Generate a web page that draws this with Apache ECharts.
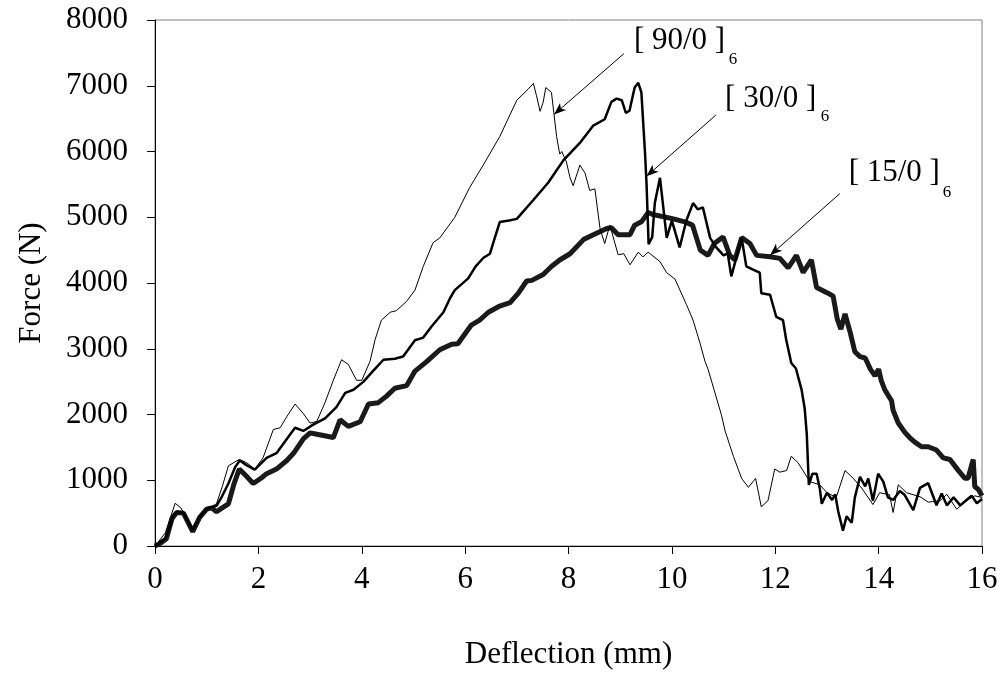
<!DOCTYPE html>
<html>
<head>
<meta charset="utf-8">
<script src="https://cdn.jsdelivr.net/npm/echarts@6/dist/echarts.min.js"></script>
<style>html,body{margin:0;padding:0;background:#fff}#c{width:1002px;height:700px}</style>
</head>
<body>
<div id="c"></div>
<script>
// Deflection (mm), Force (N) pairs
var thin90 = [[0,0],[0.2,200],[0.39,650],[0.5,580],[0.73,250],[0.85,400],[1.0,560],[1.19,643],[1.3,900],[1.42,1220],[1.63,1317],[1.77,1268],[1.93,1172],[2.09,1340],[2.29,1773],[2.42,1798],[2.55,1967],[2.71,2159],[2.87,2014],[3.0,1870],[3.13,1894],[3.29,2183],[3.45,2520],[3.61,2833],[3.74,2761],[3.90,2520],[4.0,2520],[4.16,2809],[4.26,3145],[4.38,3434],[4.55,3555],[4.67,3579],[4.87,3723],[5.03,3892],[5.19,4253],[5.38,4614],[5.51,4686],[5.80,4999],[6.09,5455],[6.35,5793],[6.67,6227],[7.0,6780],[7.22,6949],[7.32,7035],[7.38,6852],[7.45,6611],[7.51,6750],[7.56,6972],[7.67,6900],[7.72,6563],[7.77,6227],[7.83,5961],[7.87,6000],[7.96,5841],[8.03,5600],[8.09,5480],[8.22,5793],[8.32,5672],[8.41,5408],[8.51,5432],[8.61,4830],[8.70,4600],[8.80,4880],[8.96,4430],[9.07,4445],[9.19,4277],[9.35,4469],[9.44,4397],[9.54,4469],[9.77,4325],[9.90,4156],[10.06,4060],[10.28,3675],[10.41,3434],[10.54,3097],[10.64,2809],[10.70,2689],[10.96,1990],[11.03,1750],[11.19,1365],[11.35,1028],[11.48,892],[11.62,1028],[11.73,595],[11.86,690],[11.99,1172],[12.09,1123],[12.22,1148],[12.31,1365],[12.44,1268],[12.67,979],[12.86,931],[13.0,811],[13.18,739],[13.35,1148],[13.51,1028],[13.67,883],[13.89,630],[14.02,810],[14.21,780],[14.28,510],[14.38,931],[14.54,810],[14.8,750],[14.96,667],[15.19,690],[15.32,787],[15.51,560],[15.70,690],[15.86,763],[16.0,739]];

var mid30 = [[0,0],[0.2,110],[0.36,470],[0.42,520],[0.55,500],[0.73,240],[0.86,440],[1.0,570],[1.19,610],[1.3,760],[1.42,950],[1.55,1200],[1.64,1300],[1.77,1230],[1.93,1160],[2.16,1340],[2.35,1412],[2.55,1629],[2.71,1798],[2.87,1750],[3.06,1846],[3.29,1942],[3.51,2111],[3.68,2328],[3.84,2376],[4.03,2496],[4.22,2664],[4.42,2833],[4.64,2848],[4.80,2881],[5.03,3130],[5.19,3170],[5.35,3339],[5.58,3555],[5.71,3772],[5.80,3892],[6.06,4070],[6.20,4250],[6.35,4380],[6.48,4445],[6.58,4700],[6.67,4927],[6.85,4950],[7.0,4975],[7.32,5263],[7.61,5528],[7.90,5865],[8.22,6130],[8.48,6394],[8.70,6491],[8.83,6755],[8.93,6804],[9.03,6780],[9.11,6587],[9.18,6620],[9.28,6972],[9.35,7044],[9.41,6900],[9.48,5985],[9.51,5504],[9.55,4590],[9.62,4700],[9.67,5215],[9.77,5600],[9.90,4686],[10.0,4950],[10.15,4541],[10.28,4950],[10.41,5215],[10.5,5120],[10.6,5150],[10.74,4686],[10.85,4550],[11.0,4420],[11.08,4450],[11.15,4100],[11.35,4686],[11.44,4253],[11.57,4205],[11.70,4156],[11.73,3844],[11.90,3820],[12.02,3483],[12.15,3434],[12.21,3145],[12.31,2784],[12.40,2700],[12.51,2375],[12.57,2087],[12.61,1700],[12.65,930],[12.72,1100],[12.80,1100],[12.86,883],[12.90,643],[13.0,811],[13.10,700],[13.16,787],[13.22,522],[13.31,234],[13.38,450],[13.48,354],[13.54,739],[13.64,1052],[13.74,907],[13.80,1028],[13.89,690],[13.99,1100],[14.09,979],[14.18,739],[14.28,700],[14.41,835],[14.50,780],[14.67,546],[14.80,883],[14.96,955],[15.12,620],[15.22,800],[15.32,618],[15.45,739],[15.58,618],[15.70,700],[15.80,763],[15.90,650],[16.0,715]];

var thick15 = [[0,0],[0.1,40],[0.22,110],[0.33,420],[0.42,510],[0.55,500],[0.73,220],[0.86,430],[1.0,560],[1.1,580],[1.19,520],[1.3,580],[1.42,640],[1.53,950],[1.63,1170],[1.77,1060],[1.9,950],[2.05,1030],[2.16,1100],[2.35,1170],[2.55,1300],[2.68,1410],[2.87,1630],[3.0,1720],[3.13,1700],[3.26,1680],[3.45,1650],[3.58,1920],[3.74,1820],[3.97,1890],[4.13,2160],[4.32,2180],[4.48,2280],[4.64,2400],[4.87,2440],[5.03,2660],[5.25,2800],[5.51,2985],[5.74,3070],[5.86,3075],[6.12,3360],[6.28,3435],[6.45,3555],[6.67,3650],[6.87,3700],[7.03,3845],[7.19,4030],[7.29,4040],[7.51,4130],[7.67,4250],[7.83,4350],[8.03,4445],[8.29,4660],[8.48,4735],[8.74,4830],[8.83,4840],[8.96,4735],[9.19,4735],[9.28,4880],[9.41,4930],[9.54,5070],[9.64,5040],[9.77,5020],[10.03,4975],[10.25,4930],[10.40,4880],[10.55,4500],[10.70,4420],[10.82,4600],[10.99,4700],[11.12,4420],[11.22,4350],[11.35,4690],[11.51,4600],[11.64,4420],[11.90,4400],[12.09,4375],[12.25,4230],[12.41,4420],[12.54,4160],[12.70,4350],[12.80,3930],[13.02,3845],[13.12,3800],[13.20,3450],[13.27,3300],[13.35,3530],[13.45,3250],[13.54,2955],[13.64,2880],[13.74,2860],[13.84,2690],[13.93,2590],[14.0,2690],[14.05,2520],[14.12,2375],[14.25,2210],[14.28,2065],[14.38,1870],[14.51,1725],[14.60,1650],[14.70,1580],[14.83,1510],[14.96,1510],[15.12,1460],[15.25,1340],[15.38,1315],[15.54,1150],[15.67,1030],[15.73,1030],[15.83,1315],[15.86,905],[15.93,860],[16.0,765]];

var labelNames = ['[ 90/0 ]', '[ 30/0 ]', '[ 15/0 ]'];
var labelSub = '6';
// annotation anchors in data space
var labelPos = [[9.265, 7690], [11.03, 6808], [13.42, 5672]];
var subPos = [[11.10, 7400], [12.88, 6534], [15.24, 5379]];
var arrowFrom = [[9.07, 7487], [10.85, 6553], [13.25, 5360]];
var arrowTo = [[7.72, 6563], [9.51, 5624], [11.90, 4421]];

var FONT = "'Liberation Serif','Times New Roman',serif";
var chart = echarts.init(document.getElementById('c'), null, {renderer: 'canvas'});

function arrows() {
  return arrowFrom.map(function (f, i) {
    return [{coord: f}, {coord: arrowTo[i]}];
  });
}

chart.setOption({
  animation: false,
  backgroundColor: '#fff',
  grid: {left: 155, right: 20, top: 20, bottom: 154, show: true, borderColor: '#808080', borderWidth: 1, backgroundColor: 'transparent'},
  xAxis: {
    type: 'value', min: 0, max: 16, interval: 2,
    name: 'Deflection (mm)', nameLocation: 'middle', nameGap: 93,
    nameTextStyle: {fontFamily: FONT, fontSize: 31, color: '#000'},
    axisLine: {show: true, lineStyle: {color: '#000', width: 1}},
    axisTick: {show: true, inside: false, length: 8, lineStyle: {color: '#000'}},
    axisLabel: {fontFamily: FONT, fontSize: 31, color: '#000', margin: 18, formatter: function (v) { return String(v); }},
    splitLine: {show: false}
  },
  yAxis: {
    type: 'value', min: 0, max: 8000, interval: 1000,
    name: 'Force (N)', nameLocation: 'middle', nameGap: 108,
    nameTextStyle: {fontFamily: FONT, fontSize: 31, color: '#000'},
    axisLine: {show: true, lineStyle: {color: '#000', width: 1}},
    axisTick: {show: true, inside: false, length: 8, lineStyle: {color: '#000'}},
    axisLabel: {fontFamily: FONT, fontSize: 31, color: '#000', margin: 27, formatter: function (v) { return String(v); }},
    splitLine: {show: false}
  },
  series: [
    {name: '[15/0]6', type: 'line', data: thick15, symbol: 'none', lineStyle: {color: '#1a1a1a', width: 5}, z: 2},
    {name: '[30/0]6', type: 'line', data: mid30, symbol: 'none', lineStyle: {color: '#000', width: 2.5}, z: 3},
    {name: '[90/0]6', type: 'line', data: thin90, symbol: 'none', lineStyle: {color: '#000', width: 1}, z: 4,
      markLine: {
        silent: true, animation: false,
        symbol: ['none', 'arrow'], symbolSize: [7, 12],
        label: {show: false},
        lineStyle: {color: '#000', width: 1, type: 'solid'},
        emphasis: {disabled: true},
        data: arrows()
      }
    }
  ]
});

function placeLabels() {
  var g = [];
  labelNames.forEach(function (t, i) {
    var p = chart.convertToPixel({gridIndex: 0}, labelPos[i]);
    var s = chart.convertToPixel({gridIndex: 0}, subPos[i]);
    g.push({type: 'text', x: p[0], y: p[1], silent: true,
      style: {text: t, font: '31px ' + FONT, fill: '#000', align: 'left', verticalAlign: 'middle'}});
    g.push({type: 'text', x: s[0], y: s[1], silent: true,
      style: {text: labelSub, font: '17px ' + FONT, fill: '#000', align: 'left', verticalAlign: 'middle'}});
  });
  chart.setOption({graphic: g});
}
placeLabels();
</script>
</body>
</html>
